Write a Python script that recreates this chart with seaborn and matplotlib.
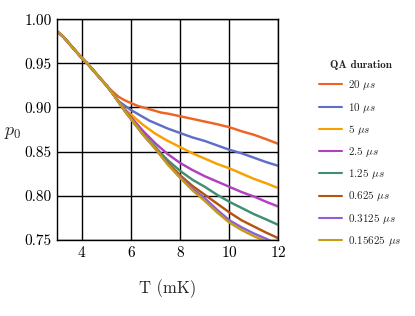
import numpy as np
import pandas as pd
import matplotlib
matplotlib.use('Agg')
import matplotlib.pyplot as plt
import seaborn as sns

# temperature grid (mK): finer where the curves split
T = [3, 3.25, 3.5, 3.75, 4, 4.25, 4.5, 4.75, 5,
     5.25, 5.5, 5.75, 6, 6.25, 6.5, 6.75, 7, 7.25, 7.5,
     8, 8.5, 9, 9.5, 10, 10.5, 11, 11.5, 12]

# shared start of every curve (T = 3 .. 5)
head = [0.986, 0.980, 0.972, 0.964, 0.956, 0.949, 0.941, 0.933, 0.925]

p_20 = head + [0.918, 0.912, 0.908, 0.905, 0.902, 0.900, 0.898, 0.896, 0.894, 0.893,
               0.890, 0.887, 0.884, 0.881, 0.8776, 0.873, 0.869, 0.864, 0.8586]
p_10 = head + [0.916, 0.907, 0.902, 0.897, 0.893, 0.889, 0.885, 0.882, 0.879, 0.876,
               0.871, 0.866, 0.862, 0.857, 0.852, 0.848, 0.843, 0.838, 0.8337]
p_5 = head + [0.916, 0.906, 0.898, 0.892, 0.886, 0.880, 0.875, 0.870, 0.866, 0.862,
              0.855, 0.848, 0.842, 0.836, 0.831, 0.825, 0.819, 0.814, 0.8084]
p_2_5 = head + [0.916, 0.906, 0.897, 0.889, 0.881, 0.873, 0.866, 0.859, 0.853, 0.847,
                0.837, 0.829, 0.822, 0.816, 0.810, 0.804, 0.799, 0.793, 0.7875]
p_1_25 = head + [0.916, 0.906, 0.896, 0.887, 0.878, 0.870, 0.862, 0.855, 0.847, 0.840,
                 0.828, 0.818, 0.810, 0.801, 0.793, 0.786, 0.779, 0.773, 0.7667]
p_0_625 = head + [0.916, 0.906, 0.896, 0.887, 0.878, 0.869, 0.861, 0.853, 0.845, 0.837,
                  0.823, 0.811, 0.801, 0.791, 0.781, 0.772, 0.765, 0.758, 0.7516]
p_0_3125 = head + [0.916, 0.906, 0.896, 0.887, 0.878, 0.869, 0.861, 0.853, 0.844, 0.836,
                   0.821, 0.808, 0.797, 0.784, 0.772, 0.764, 0.757, 0.751, 0.744]
p_0_15625 = head + [0.916, 0.906, 0.896, 0.887, 0.878, 0.869, 0.861, 0.853, 0.844, 0.835,
                    0.820, 0.806, 0.794, 0.781, 0.7695, 0.761, 0.754, 0.748, 0.741]

labels = [r'20 $\mu s$', r'10 $\mu s$', r'5 $\mu s$', r'2.5 $\mu s$',
          r'1.25 $\mu s$', r'0.625 $\mu s$', r'0.3125 $\mu s$', r'0.15625 $\mu s$']
series = [p_20, p_10, p_5, p_2_5, p_1_25, p_0_625, p_0_3125, p_0_15625]
COLORS = ['#ee6424', '#5f6fc8', '#f7a000', '#b040c0', '#3f8f70', '#b45410',
          '#8c60d8', '#c49c18']

df = pd.concat([pd.DataFrame({'T': T, 'p0': s, 'QA duration': lab})
                for lab, s in zip(labels, series)], ignore_index=True)

sns.set_style('white')
plt.rcParams['font.family'] = 'serif'
plt.rcParams['font.serif'] = ['cmr10']
plt.rcParams['mathtext.fontset'] = 'cm'
plt.rcParams['axes.formatter.use_mathtext'] = True

fig = plt.figure(figsize=(4.15, 3.16), dpi=100)
ax = fig.add_axes([0.138, 0.2415, 0.533, 0.6975])

sns.lineplot(data=df, x='T', y='p0', hue='QA duration', palette=COLORS,
             hue_order=labels, linewidth=1.75, ax=ax, legend=True)

ax.set_xlim(3, 12)
ax.set_ylim(0.75, 1.0)
ax.set_xticks([4, 6, 8, 10, 12])
ax.set_yticks([0.75, 0.80, 0.85, 0.90, 0.95, 1.00])
ax.set_yticklabels(['0.75', '0.80', '0.85', '0.90', '0.95', '1.00'])
ax.grid(True, color='black', linewidth=1.0)
ax.set_axisbelow(True)
for spine in ax.spines.values():
    spine.set_color('black')
    spine.set_linewidth(1.0)
ax.tick_params(length=0, labelsize=11, pad=4, colors='black')

ax.set_xlabel('T (mK)', fontsize=12, labelpad=14)
ax.set_ylabel(r'$p_0$', fontsize=13, rotation=0, labelpad=14)
ax.yaxis.set_label_coords(-0.2, 0.45)

leg = ax.legend(title='QA duration', loc='upper left', bbox_to_anchor=(1.14, 0.86),
                frameon=False, fontsize=8, labelspacing=0.74, handlelength=2.0,
                handletextpad=0.6)
for line in leg.get_lines():
    line.set_linewidth(1.5)
leg.get_title().set_fontfamily('cmb10')
leg.get_title().set_fontsize(8)

fig.savefig('out.png', dpi=100)
